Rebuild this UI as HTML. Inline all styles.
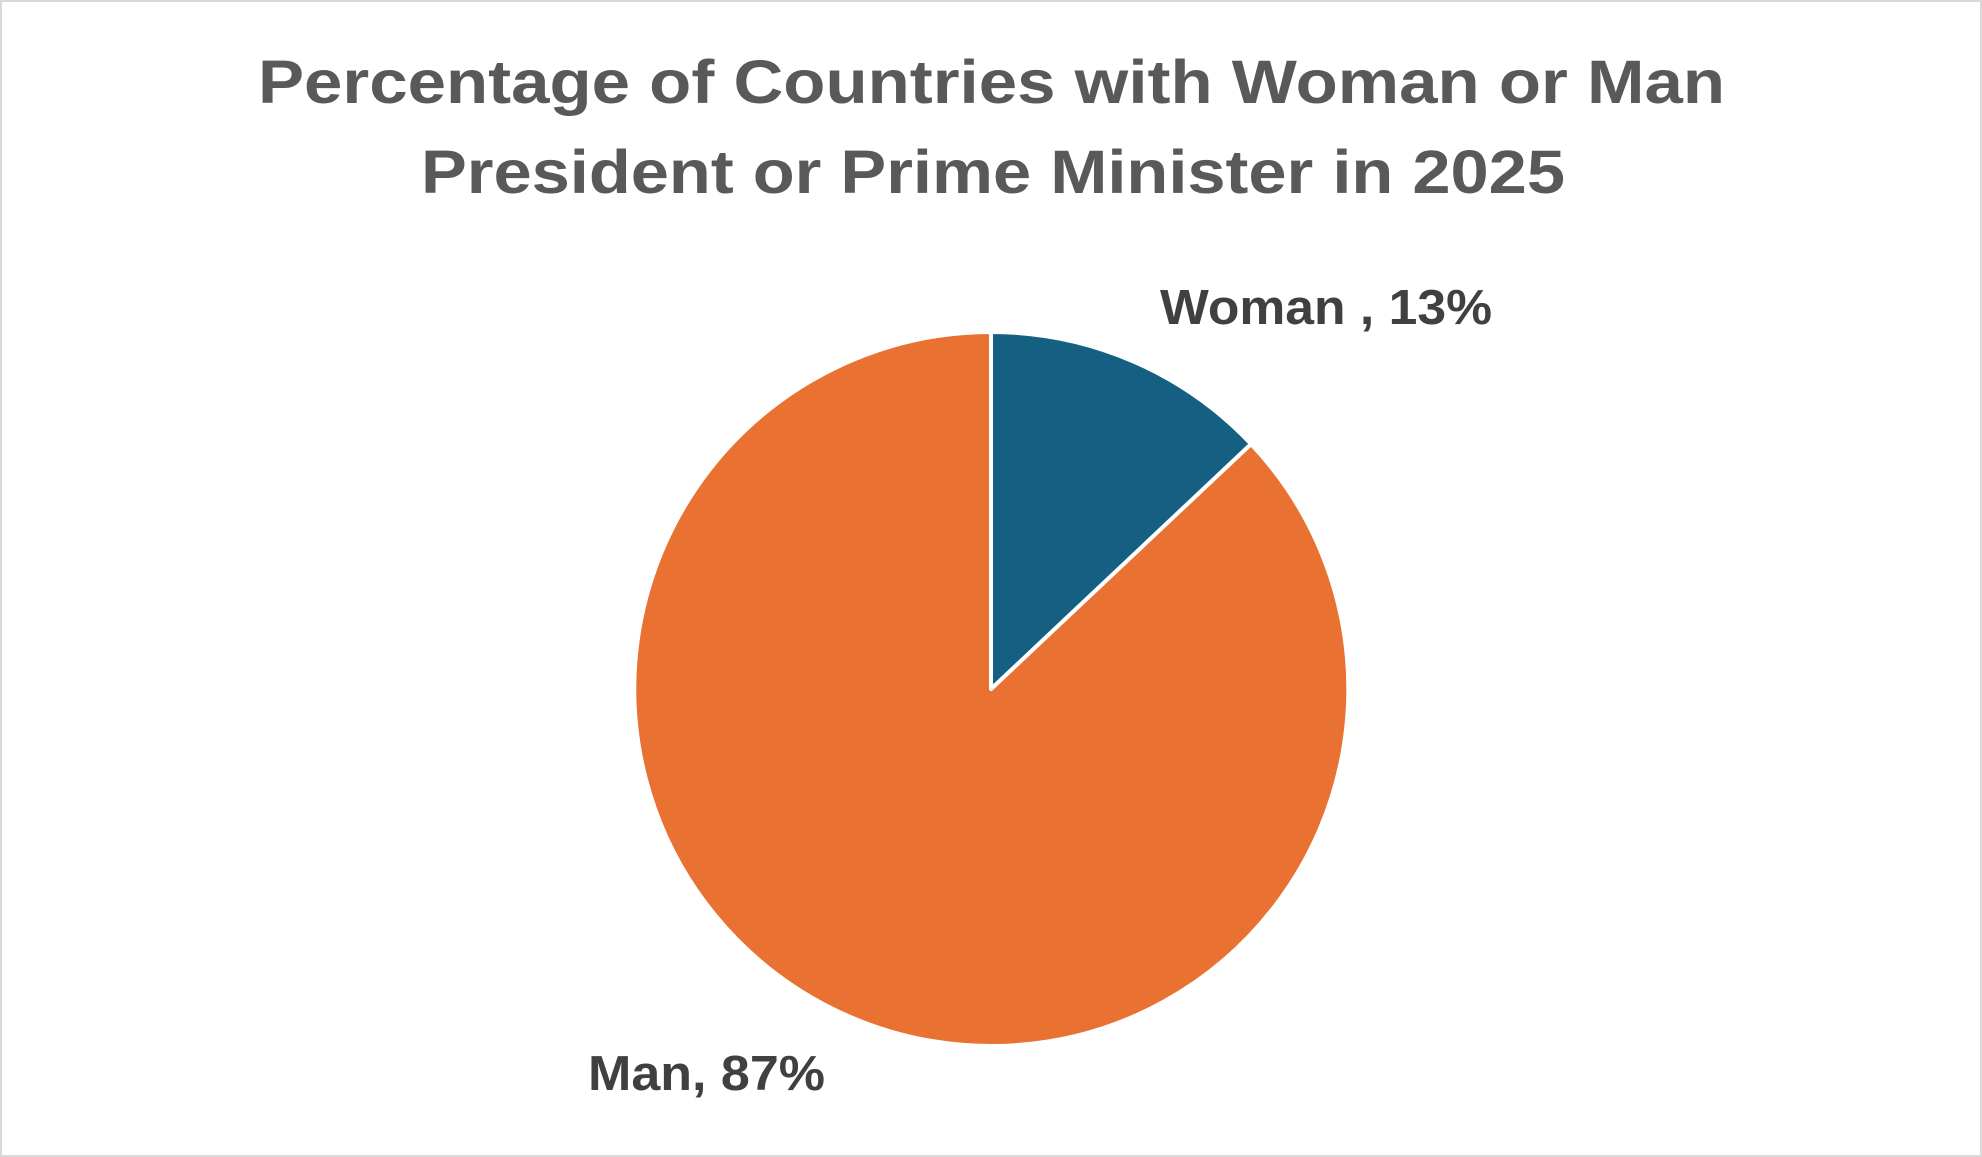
<!DOCTYPE html>
<html><head><meta charset="utf-8"><style>
html,body{margin:0;padding:0;background:#fff;}
svg{display:block;}
</style></head><body>
<svg width="1982" height="1157" viewBox="0 0 1982 1157" xmlns="http://www.w3.org/2000/svg">
<rect x="1" y="1" width="1980" height="1155" fill="#fff" stroke="#d9d9d9" stroke-width="2"/>
<g font-family="Liberation Sans, sans-serif" font-weight="bold" fill="#595959" font-size="61">
<text x="258" y="103" textLength="1467" lengthAdjust="spacingAndGlyphs">Percentage of Countries with Woman or Man</text>
<text x="421" y="193" textLength="1144" lengthAdjust="spacingAndGlyphs">President or Prime Minister in 2025</text>
</g>
<path d="M991 689 L991 332 A357 357 0 1 0 1251 444 Z" fill="#e97132" stroke="#fff" stroke-width="4" stroke-linejoin="round"/>
<path d="M991 689 L991 332 A357 357 0 0 1 1251 444 Z" fill="#156082" stroke="#fff" stroke-width="4" stroke-linejoin="round"/>
<g font-family="Liberation Sans, sans-serif" font-weight="bold" fill="#404040" font-size="49">
<text x="1160" y="324" textLength="332" lengthAdjust="spacingAndGlyphs">Woman , 13%</text>
<text x="588" y="1090" textLength="237" lengthAdjust="spacingAndGlyphs">Man, 87%</text>
</g>
</svg>
</body></html>
